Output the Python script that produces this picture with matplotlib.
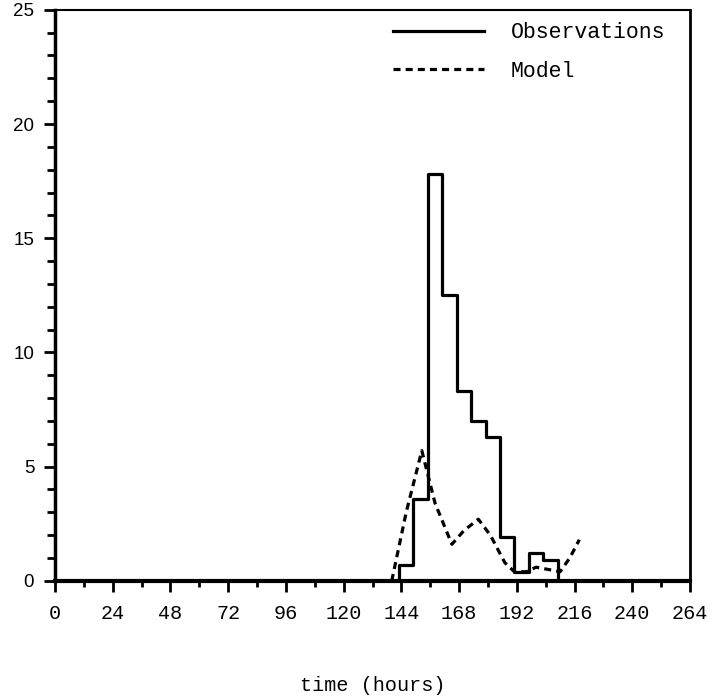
import matplotlib
matplotlib.use("Agg")
import matplotlib.pyplot as plt
from matplotlib.ticker import MultipleLocator

# observations: 6-hourly bins (left edges) and values
obs_edges = [143, 149, 155, 161, 167, 173, 179, 185, 191, 197, 203, 209]
obs_vals = [0.7, 3.6, 17.8, 12.5, 8.3, 7.0, 6.3, 1.9, 0.4, 1.2, 0.9]

# model curve
model_t = [140, 146, 152.5, 158, 165, 170, 176, 181, 187, 191, 196, 200, 205, 210, 214, 218]
model_v = [0.0, 3.0, 5.7, 3.4, 1.6, 2.2, 2.7, 2.0, 0.8, 0.4, 0.4, 0.6, 0.5, 0.4, 1.0, 1.8]

mono = "Liberation Mono"

fig = plt.figure(figsize=(7.15, 6.99), dpi=100)
ax = fig.add_axes([0.077, 0.169, 0.888, 0.817])

# step line for observations, zero before and after the bins
xs = [0] + obs_edges + [264]
ys = [0] + obs_vals + [0, 0]
ax.step(xs, ys, where="post", color="black", lw=2.3, label="Observations")
ax.plot(model_t, model_v, color="black", lw=2.3, ls=(0, (2.2, 1.6)), label="Model")

ax.set_xlim(0, 264)
ax.set_ylim(0, 25)
ax.xaxis.set_major_locator(MultipleLocator(24))
ax.xaxis.set_minor_locator(MultipleLocator(12))
ax.yaxis.set_major_locator(MultipleLocator(5))
ax.yaxis.set_minor_locator(MultipleLocator(1))
ax.tick_params(which="both", direction="out", width=2, color="black")
ax.tick_params(axis="x", which="major", length=8, pad=9)
ax.tick_params(axis="x", which="minor", length=4)
ax.tick_params(axis="y", which="major", length=8, pad=7)
ax.tick_params(axis="y", which="minor", length=6)

for lab in ax.get_xticklabels():
    lab.set_fontfamily(mono)
    lab.set_fontsize(14.5)
for lab in ax.get_yticklabels():
    lab.set_fontfamily("Liberation Sans")
    lab.set_fontsize(13.5)

ax.spines["bottom"].set_linewidth(3)
ax.spines["left"].set_linewidth(2.5)
ax.spines["top"].set_linewidth(1.5)
ax.spines["right"].set_linewidth(2)

ax.set_xlabel("time (hours)", fontfamily=mono, fontsize=14.5, labelpad=38)

ax.legend(loc="upper left", frameon=False, prop={"family": mono, "size": 15.5},
          handlelength=4.2, handletextpad=1.25, labelspacing=0.8,
          borderpad=0, borderaxespad=0, bbox_to_anchor=(0.533, 0.978))

fig.savefig("out.png", dpi=100)
